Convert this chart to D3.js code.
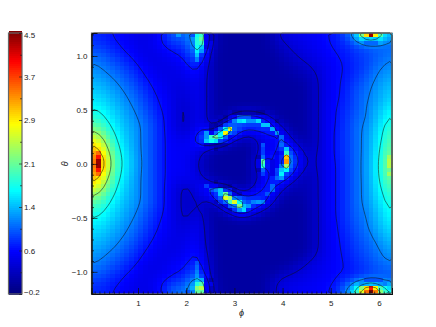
<!DOCTYPE html>
<html>
<head>
<meta charset="utf-8">
<script src="https://cdn.jsdelivr.net/npm/d3@7"></script>
<style>
body { margin: 0; background: #fff; }
text { font-family: "Liberation Sans", sans-serif; fill: #222; }
</style>
</head>
<body>
<script>
// colour bar
var barLabels = ["\u22120.2", "0.6", "1.4", "2.1", "2.9", "3.7", "4.5"];
var colorValues = [-0.2, 0.55, 1.65, 2.85, 3.98, 4.5];
var colorNames = ["#000080", "#0000ff", "#00ffff", "#ffff00", "#ff0000", "#800000"];

// axes
var phiRange = [0.035, 6.27];
var thetaRange = [-1.205, 1.213];
var phiTicks = [1, 2, 3, 4, 5, 6];
var thetaTicks = [-1, -0.5, 0, 0.5, 1];
var contourLevels = [0.28, 0.6, 1.1, 1.7, 2.35, 3.0, 3.6, 4.2];

// one character per cell, in steps of 0.1 from -0.2
var cellCodes = "0123456789abcdefghijklmnopqrstuvwxyzABCDEFGHIJKL";
var cellRows = [
"9998877766 666678aded bbjl743222 2222222235 6666777778 8899cfiowK vmjg",
"9999888776 666789abba bckn743222 2222222234 5666677778 8899abdfgh gfdc",
"aa99888776 6677889aaa abkl743222 2222222234 4556667778 88999abccc cccc",
"aaa9988777 6667788999 abjg643222 2222222233 4555666777 88899aabbb cccc",
"bbaa998877 6666778899 9aie642222 2222222223 4455666777 888899aabb bccc",
"ccbba99887 6666677788 9agb632222 2222222222 3445566677 788899aaab bccd",
"dccbba9988 7666667778 89d9632222 2222222222 3344555667 7888899aab bccd",
"ddccbba998 7766666777 89b8532222 2222222222 3334455666 7788899aab cdde",
"eddccbba99 8776666667 88a8532222 2222222222 2333444566 7788899aab cdde",
"eeddccbaa9 8777666666 7897532222 2222222222 2233344566 7788899abc ddee",
"feeddccba9 9877666666 6787532222 2222222222 2223333456 778889aabc deef",
"ffeeddcbba 9887766666 6777532222 2222222222 2222333456 778899abcc deff",
"gffeedccba 9987766666 6677532222 2222222222 2222233456 778899abcd defg",
"ggffeedccb a988776655 6677532222 2222222222 2222223456 77889abccd efgg",
"hggffeddcb a998776655 6677532222 2222222222 2222223456 77889abccd efgg",
"hhggfeedcc ba98877655 5677532222 2222222222 2222223456 77889abcdd efgh",
"ihhgffeddc ba98877655 5677532222 2222222222 2222223456 77899abcdd efgh",
"iihhgfeedc ba99877654 5677532222 2222222222 2222223456 77899abcde efgi",
"jjihggfedd cba9887654 4677532222 2222222222 2222223456 78899abcde fgij",
"kjjihgfeed cba9887654 4677532222 2233322222 2222223456 7889aabcde fgij",
"lkjihggfed cba9987654 4677532224 8bbba97532 2222223456 7889abccde fhik",
"mlkjihgfee dcba987654 467753224a dhieehb742 2222223456 7889abccde fhik",
"nmljihgfee dcba987654 46785324bd caaaacgga5 2222223456 7889abcdee gikl",
"pomkjigffe dcba987654 4678636ait b988889af9 5322223456 7899abcdee gikl",
"rqnljihgfe dcba987765 5679e7aive 877666779e 8422223456 7899abcdef gikn",
"tsomkihgfe dcba987766 679belnjc7 6544457667 c743223456 7899abcdef gikn",
"vuqnljhgfe dcba987776 67abgjhc85 3333348666 b854323456 7899abcdef hilo",
"xwsoljigfe dcba987777 7787543332 222223b666 c965433456 7899abcdef hilo",
"zytpmkihfe dcba987777 7775532222 222223a666 9g86543456 7899abcdef hjmp",
"yBvqmkihge dcba987777 7765422222 222223a666 8l96554456 7899abcdef hjmp",
"yFxqnkjhge dcba987777 7664322222 222223c667 9xa7654456 7899abcdeg hjmq",
"yKyrnljhgf dcba987777 7654322222 222224m767 9zb7654456 7889abcdeg hjnr",
"yKyqnljhgf dcba987777 7654322222 222224k767 bqb7654456 7889abcdeg hjnr",
"yFxqnkjhge dcba987777 7654322222 222223c668 gi96554456 7889abcdeg hjnq",
"yBvqmkihge dcba987777 7764322222 222224a66a ia76543456 7889abcdeg hjnq",
"zytpmkihfe dcba987777 7765332222 222225967c e865433456 7889abcdeg hjmp",
"xwsoljigfe dcba987765 6777632222 222235879b 9654333456 7889abcdef hjlo",
"vuqnljhgfe dcba987654 4477a65432 22234699c8 5433333456 7889abcdef hjlo",
"tsomkihgfe dcba987654 44788bdga6 33345789c6 4333333456 7889abcdef hikm",
"rqnljihgfe dcba987654 446779cgnd 6456789b85 3333333456 7889abcdef hikm",
"pomkjigffe dcba987654 4465458btq c989aab864 3222333456 7889abcdef gijl",
"nmljihgfee dcba987654 44653347cm tjbaded853 2222223456 7889abcdef gijl",
"mlkjihgfee dcba987654 4465333469 fogeb97532 2222223456 7889abcdde ghik",
"lkjihggfed cba9987654 4465322345 8eh9754322 2222223456 7889abcdde ghik",
"kjjihgfeed cba9887654 4476322233 4565432222 2222223456 7889abccde fgij",
"jjihggfedd cba9887655 4677322222 2222222222 2222223456 7889abccde fgij",
"iihhgfeedc ba99877655 4677322222 2222222222 2222223456 7789aabcdd fghi",
"ihhgffeddc ba98877655 5677322222 2222222222 2222223456 7789aabcdd fghi",
"hhggfeedcc ba98877665 6777422222 2222222222 2222223456 77899abccd efgh",
"hggffeddcb a998776665 6777422222 2222222222 2222223456 77899abccd efgh",
"ggffeedccb a988776666 6777422222 2222222222 2222223456 77889aabcc defg",
"gffeedccba 9987766666 6787422222 2222222222 2222223456 77889aabcc defg",
"ffeeddcbba 9887766666 7887432222 2222222222 2222223456 778899abbc cdef",
"feeddccba9 9877666666 7897432222 2222222222 2222223456 778899abbc cdef",
"eeddccbaa9 8777666667 7898532222 2222222222 2222234556 778889aabb cdde",
"eddccbba99 8776666778 78a8532222 2222222222 2222335566 778889aabb cdde",
"ddccbba998 7766667787 88b8532222 2222222222 2223455667 7788899aab bccd",
"dccbba9988 7666667787 89c9532222 2222222222 2234556667 77888899aa bbcc",
"ccbba99887 6666677788 8ada632222 2222222222 3455566677 77888899aa bbbc",
"bbaa998877 6666778899 9bec632222 2222222234 5555666677 7888899aab bbbb",
"aaa9988777 6667788999 acgf633222 2222222345 5666667777 78899aabbb bbbb",
"aa99888776 6677889abb bdkm743222 2222222245 6666677777 888acddefg fedd",
"9999888776 666789bcdc bdpr743222 2222222246 6667777778 889bdgjpwF vojg",
"9998877766 666678adec bdnn743222 2222222246 6667777778 889behmtBL Arli"
];

function init_svg() {
    var width = 436;
    var height = 327;
    var left = 91.5, right = 392, top = 33, bottom = 294;
    var barLeft = 8.5, barRight = 22;

    var svg = d3.select("body")
        .append("svg")
        .attr("width", width)
        .attr("height", height);

    var grid = cellRows.map(row => row.replace(/ /g, "").split("").map(c => -0.2 + cellCodes.indexOf(c) / 10));
    var nRows = grid.length;
    var nCols = grid[0].length;

    var x = d3.scaleLinear().domain(phiRange).range([left, right]);
    var y = d3.scaleLinear().domain(thetaRange).range([bottom, top]);
    var col = d3.scaleLinear().domain([0, nCols]).range([left, right]);
    var row = d3.scaleLinear().domain([0, nRows]).range([top, bottom]);
    var color = d3.scaleLinear().domain(colorValues).range(colorNames).clamp(true);

    // values were read in 0.1 steps, soften the steps but keep the sharp cells
    var soft = { data: Float64Array.from(grid.flat()), width: nCols, height: nRows };
    d3.blur2(soft, 1);

    // cells
    var cells = [];
    grid.forEach((r, i) => r.forEach((v, j) => {
        var s = soft.data[i * nCols + j];
        cells.push({ i: i, j: j, v: Math.abs(s - v) > 0.25 ? v : s });
    }));
    svg.append("g")
        .attr("shape-rendering", "crispEdges")
        .selectAll("rect")
        .data(cells)
        .join("rect")
        .attr("x", d => col(d.j))
        .attr("y", d => row(d.i))
        .attr("width", col(1) - col(0) + 0.5)
        .attr("height", row(1) - row(0) + 0.5)
        .attr("fill", d => color(d.v));

    // contour lines, on a lightly smoothed copy of the grid
    var smooth = { data: Float64Array.from(grid.flat()), width: nCols, height: nRows };
    d3.blur2(smooth, 0.6);
    var contours = d3.contours().size([nCols, nRows]).thresholds(contourLevels)(smooth.data);
    var path = d3.geoPath(d3.geoTransform({
        point: function (a, b) { this.stream.point(col(a), row(b)); }
    }));
    svg.append("g")
        .attr("fill", "none")
        .attr("stroke", "#111")
        .attr("stroke-opacity", 0.75)
        .attr("stroke-width", 0.7)
        .selectAll("path")
        .data(contours)
        .join("path")
        .attr("d", path);

    // frame
    svg.append("rect")
        .attr("x", left).attr("y", top)
        .attr("width", right - left).attr("height", bottom - top)
        .attr("fill", "none")
        .attr("stroke", "#777")
        .attr("stroke-width", 1.2);

    // axes
    svg.append("g")
        .attr("transform", "translate(0," + bottom + ")")
        .call(d3.axisBottom(x).tickValues(phiTicks).tickFormat(d3.format("d")).tickSize(-6).tickPadding(6));
    svg.append("g")
        .attr("transform", "translate(0," + bottom + ")")
        .call(d3.axisBottom(x).tickValues(d3.range(1, 63).map(d => d / 10)).tickFormat("").tickSize(-2.5));
    svg.append("g")
        .attr("transform", "translate(" + left + ",0)")
        .call(d3.axisLeft(y).tickValues(thetaTicks).tickFormat(d3.format(".1f")).tickSize(-6).tickPadding(4));
    svg.append("g")
        .attr("transform", "translate(" + left + ",0)")
        .call(d3.axisLeft(y).tickValues(d3.range(-12, 13).map(d => d / 10)).tickFormat("").tickSize(-2.5));
    svg.selectAll(".tick text").attr("font-size", 8).attr("font-family", "Liberation Sans").attr("fill", "#222");
    svg.selectAll(".domain").attr("stroke", "#111").attr("stroke-width", 1);
    svg.selectAll(".tick line").attr("stroke", "#111").attr("stroke-width", 0.7);

    svg.append("text")
        .attr("x", x(3.15)).attr("y", 316)
        .attr("text-anchor", "middle")
        .attr("font-size", 9)
        .attr("font-style", "italic")
        .attr("font-family", "DejaVu Serif")
        .text("\u03d5");
    svg.append("text")
        .attr("transform", "translate(68," + y(0) + ") rotate(-90)")
        .attr("text-anchor", "middle")
        .attr("font-size", 9)
        .attr("font-style", "italic")
        .attr("font-family", "DejaVu Serif")
        .text("\u03b8");

    // colour bar
    var barValue = d3.scaleLinear().domain([colorValues[0], colorValues[colorValues.length - 1]]).range([bottom, top]);
    var barIndex = d3.scaleLinear().domain([0, barLabels.length - 1]).range([bottom, top]);
    var barSteps = d3.range(0, 131).map(d => colorValues[0] + d * 4.7 / 130);
    svg.append("g")
        .attr("shape-rendering", "crispEdges")
        .selectAll("rect")
        .data(barSteps)
        .join("rect")
        .attr("x", barLeft)
        .attr("y", d => barValue(d) - 2)
        .attr("width", barRight - barLeft)
        .attr("height", 2.5)
        .attr("fill", d => color(d));
    svg.append("rect")
        .attr("x", barLeft).attr("y", top)
        .attr("width", barRight - barLeft).attr("height", bottom - top)
        .attr("fill", "none")
        .attr("stroke", "#666")
        .attr("stroke-width", 1.2);
    var barAxis = svg.append("g")
        .attr("transform", "translate(" + barRight + ",0)")
        .call(d3.axisRight(barIndex).tickValues(d3.range(barLabels.length)).tickFormat(i => barLabels[i]).tickSize(-3).tickPadding(2));
    barAxis.select(".domain").remove();
    barAxis.selectAll(".tick line").attr("stroke", "#222").attr("stroke-width", 0.7);
    barAxis.selectAll(".tick text").attr("font-size", 8).attr("font-family", "Liberation Sans").attr("fill", "#222");
    barAxis.selectAll(".tick text").attr("dy", i => i === 0 ? "0.1em" : i === barLabels.length - 1 ? "0.6em" : "0.32em");
    var barMinor = svg.append("g")
        .attr("transform", "translate(" + barRight + ",0)")
        .call(d3.axisRight(barIndex).tickValues(d3.range(0.5, 6, 1)).tickFormat("").tickSize(-2));
    barMinor.select(".domain").remove();
    barMinor.selectAll(".tick line").attr("stroke", "#222").attr("stroke-width", 0.7);
}

init_svg();
</script>
</body>
</html>
